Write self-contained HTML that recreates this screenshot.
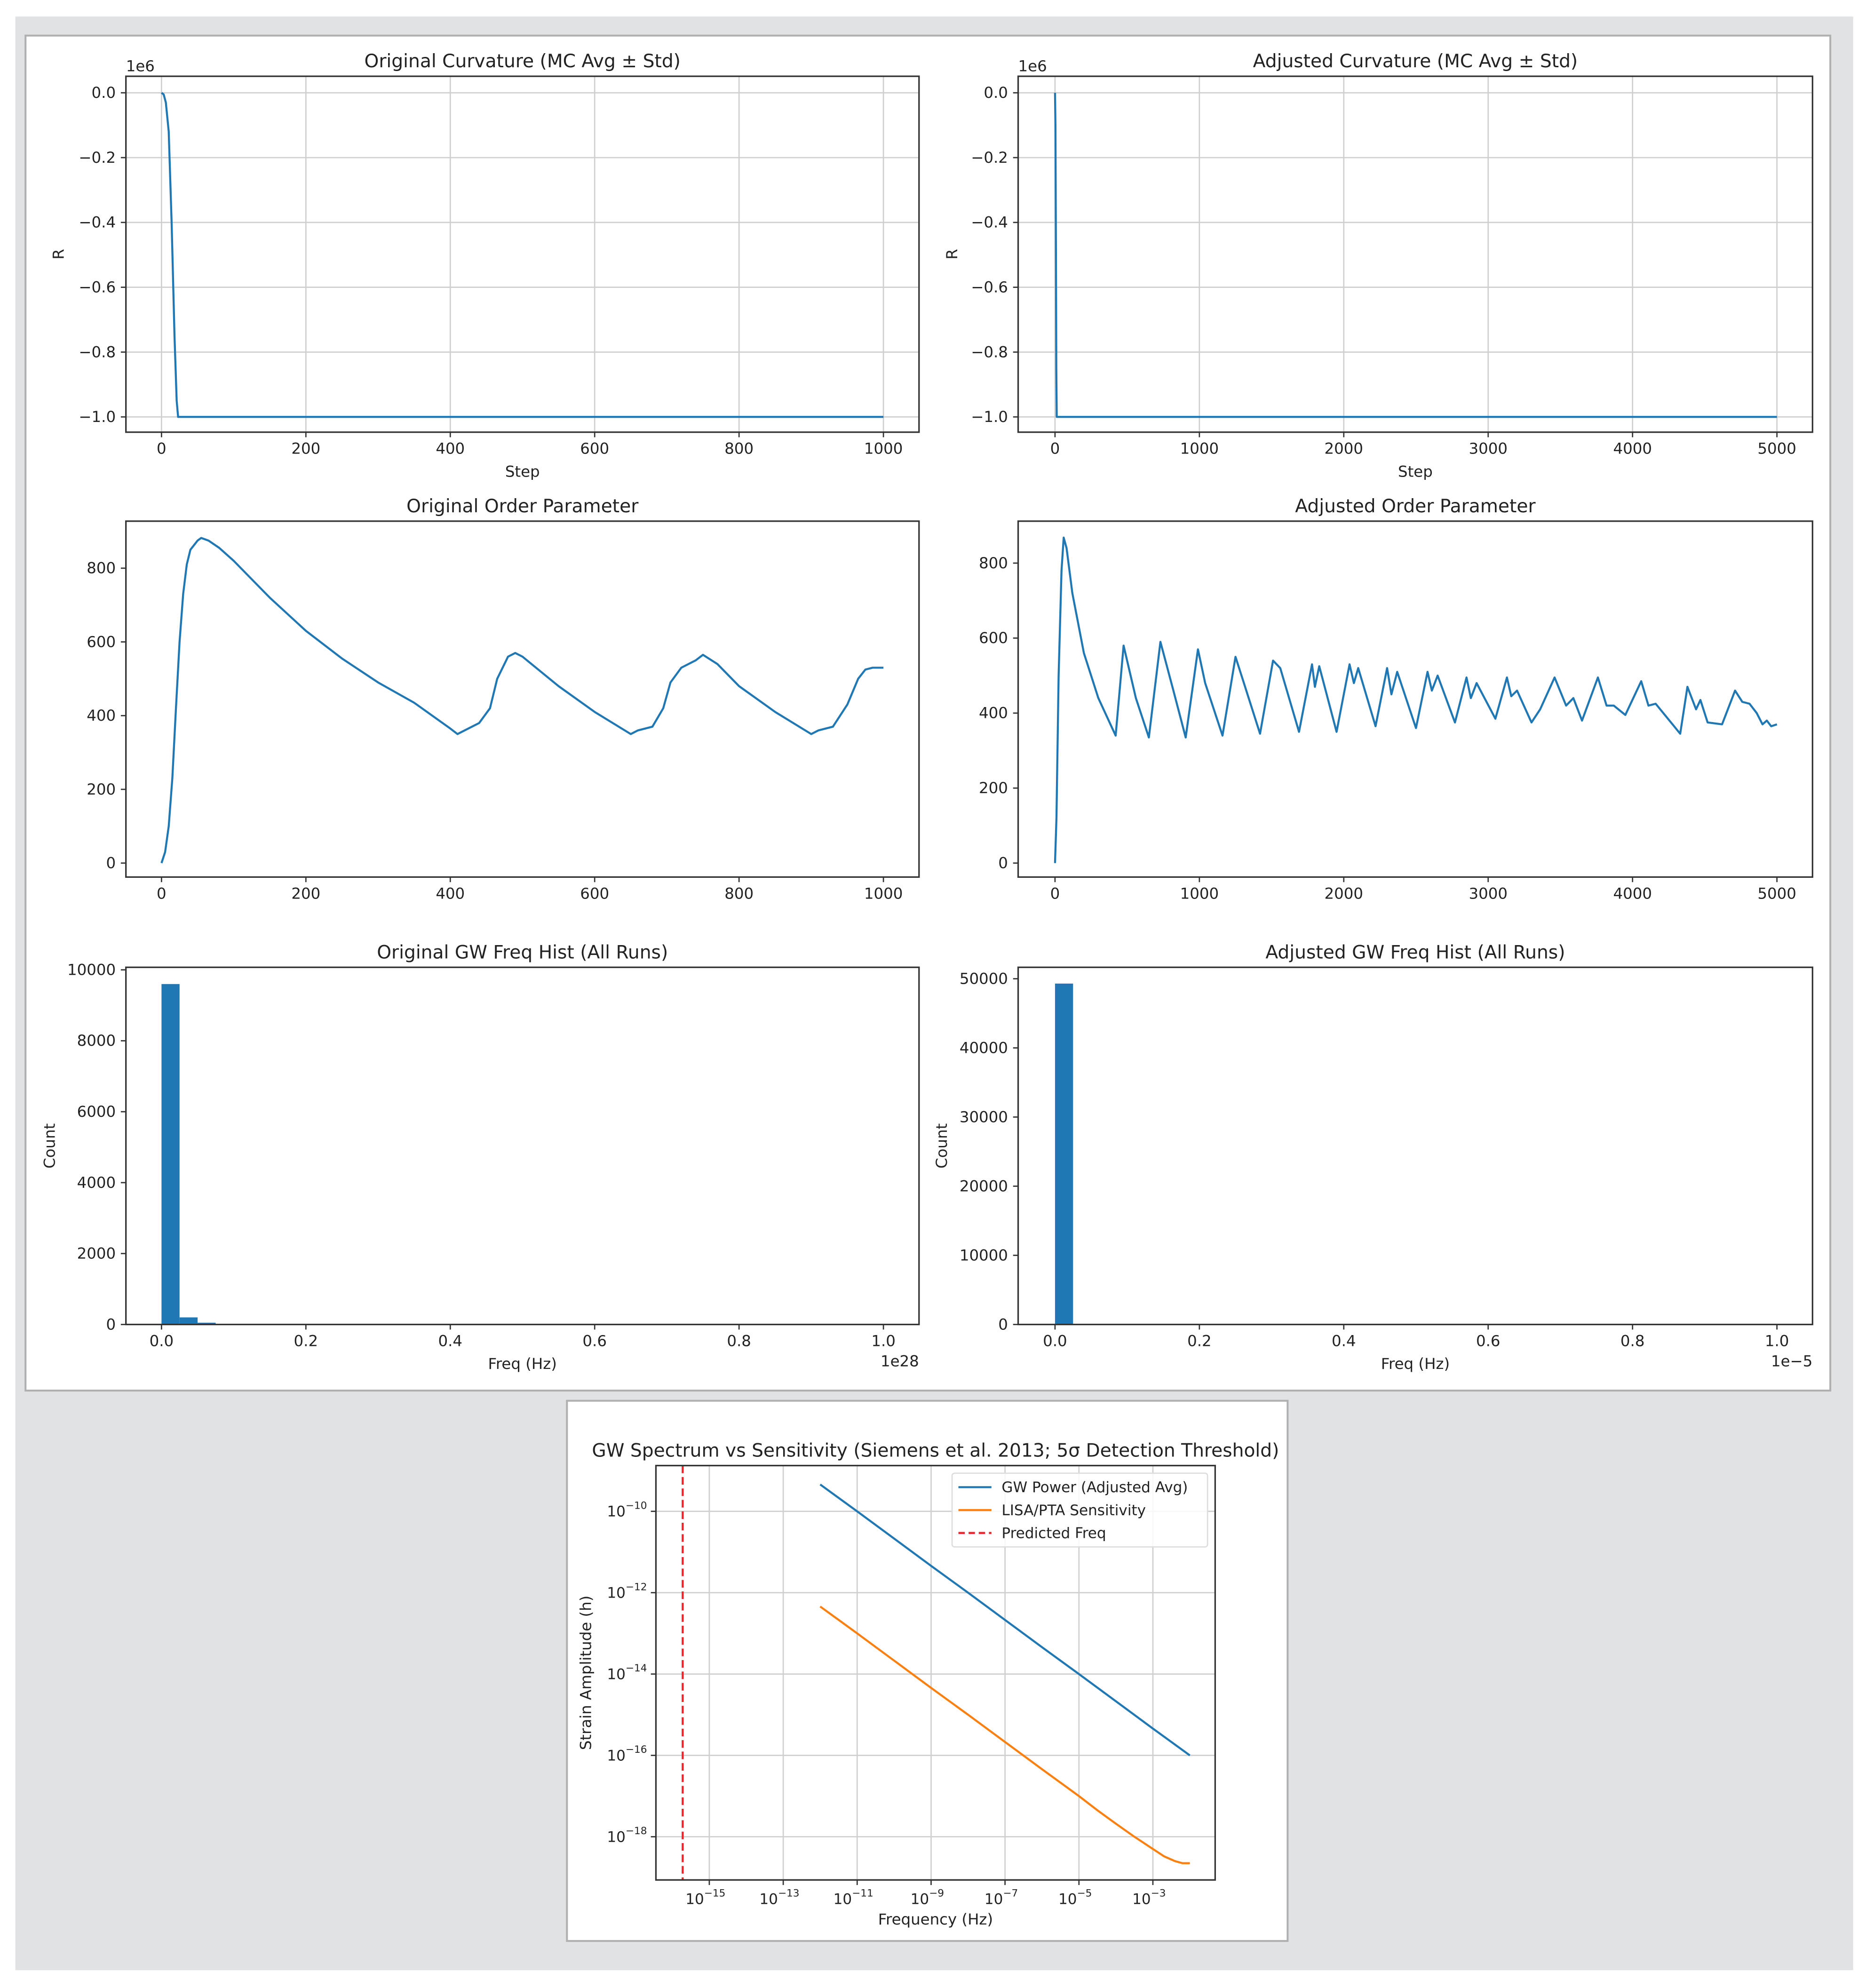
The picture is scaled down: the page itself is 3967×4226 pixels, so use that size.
<!DOCTYPE html>
<html><head><meta charset="utf-8"><style>
html,body{margin:0;padding:0;background:#fff}
svg{display:block}
text{font-family:"DejaVu Sans","Liberation Sans",sans-serif;fill:#222}
</style></head><body>
<svg id="fig" width="3967" height="4226" viewBox="0 0 1468 1564" xmlns="http://www.w3.org/2000/svg">
<rect x="0" y="0" width="1468" height="1564" fill="#ffffff"/>
<rect x="12" y="13" width="1446" height="1537" fill="#e1e2e4"/>
<rect x="20" y="28" width="1420" height="1066" fill="#fff" stroke="#b0b0b0" stroke-width="1.5"/>
<rect x="446" y="1102" width="567" height="425" fill="#fff" stroke="#b0b0b0" stroke-width="1.5"/>
<g id="root"></g>
</svg>
<script>
// ---- data ----
const curvOrigSteps=[0,3,6,10,14,18,21,23,1000];
const curvOrigVals=[0,-0.005,-0.03,-0.12,-0.4,-0.75,-0.95,-1.0,-1.0];
const curvAdjSteps=[0,3,6,9,12,5000];
const curvAdjVals=[0,-0.1,-0.45,-0.85,-1.0,-1.0];
const ordOrigSteps=[0,5,10,15,20,25,30,35,40,50,55,65,80,100,150,200,250,300,350,400,410,420,440,455,465,480,490,500,550,600,650,660,680,695,705,720,740,750,770,800,850,900,910,930,950,965,975,985,1000];
const ordOrigVals=[0,30,100,230,420,600,730,810,850,875,882,875,855,820,720,630,555,490,435,365,350,360,380,420,500,560,570,560,480,410,350,360,370,420,490,530,550,565,540,480,410,350,360,370,430,500,525,530,530];
const ordAdjSteps=[0,10,25,45,60,80,120,200,300,420,475,560,650,730,820,905,990,1040,1160,1250,1300,1420,1510,1560,1690,1780,1800,1830,1950,2040,2070,2100,2220,2300,2330,2370,2500,2580,2610,2650,2770,2850,2880,2920,3050,3130,3160,3200,3300,3360,3460,3540,3590,3650,3760,3820,3870,3950,4060,4110,4160,4330,4380,4440,4470,4520,4620,4710,4760,4810,4860,4900,4930,4960,5000];
const ordAdjVals=[0,120,500,780,868,840,720,560,440,340,580,440,335,590,460,335,570,480,340,550,490,345,540,520,350,530,470,525,350,530,480,520,365,520,450,510,360,510,460,500,375,495,440,480,385,495,445,460,375,410,495,420,440,380,495,420,420,395,485,420,425,345,470,410,435,375,370,460,430,425,400,370,380,365,370];
const histOrigEdges=[0,0.025,0.05,0.075,0.1];
const histOrigCounts=[9600,200,50,15];
const histAdjEdges=[0,0.025,0.05];
const histAdjCounts=[49300,100];
const gwFreqExp=[-12,-11,-10,-9,-8,-7,-6,-5,-4,-3,-2];
const gwPowerExp=[-9.34,-10.0,-10.67,-11.34,-12.0,-12.67,-13.34,-14.0,-14.67,-15.34,-16.0];
const lisaFreqExp=[-12,-11,-10,-9,-8,-7,-6,-5,-4.5,-4,-3.5,-3,-2.7,-2.4,-2.2,-2];
const lisaExp=[-12.34,-13.0,-13.67,-14.34,-15.0,-15.67,-16.34,-17.0,-17.35,-17.68,-18.0,-18.3,-18.48,-18.6,-18.65,-18.65];
const predictedFreqExp=[-15.72];

const NS="http://www.w3.org/2000/svg";
const root=document.getElementById('root');
function el(tag,attrs,parent){const e=document.createElementNS(NS,tag);for(const k in attrs)e.setAttribute(k,attrs[k]);(parent||root).appendChild(e);return e;}
function txt(x,y,s,size,anchor,parent,extra){const t=el('text',Object.assign({x:x,y:y,'font-size':size,'text-anchor':anchor||'middle'},extra||{}),parent);t.textContent=s;return t;}
function lin(d0,d1,p0,p1){return v=>p0+(v-d0)*(p1-p0)/(d1-d0);}
function fmtMinus(s){return String(s).replace('-','\u2212');}

function axes(o){
  const g=el('g',{});
  
  
  const X=lin(o.xd[0],o.xd[1],o.xp[0],o.xp[1]);
  const Y=lin(o.yd[0],o.yd[1],o.yp[0],o.yp[1]);
  el('rect',{x:o.box[0],y:o.box[1],width:o.box[2]-o.box[0],height:o.box[3]-o.box[1],fill:'#fff'},g);
  if(o.grid){
    o.xt.forEach(v=>{const gl=el('line',{x1:X(v),x2:X(v),y1:o.box[1],y2:o.box[3],stroke:'#cfcfcf','stroke-width':1},g);});
    o.yt.forEach(v=>{const gl=el('line',{y1:Y(v),y2:Y(v),x1:o.box[0],x2:o.box[2],stroke:'#cfcfcf','stroke-width':1},g);});
  }
  o.xt.forEach((v,i)=>{el('line',{x1:X(v),x2:X(v),y1:o.box[3],y2:o.box[3]+4,stroke:'#333'},g);
    const t=txt(X(v),o.box[3]+17,o.xl[i],12,'middle',g);});
  o.yt.forEach((v,i)=>{el('line',{x1:o.box[0]-4,x2:o.box[0],y1:Y(v),y2:Y(v),stroke:'#333'},g);
    const t=txt(o.box[0]-8,Y(v)+4,o.yl[i],12,'end',g);});
  const tt=txt((o.box[0]+o.box[2])/2,o.box[1]-7,o.title,14.5,'middle',g);
  
  if(o.xlabel){const t=txt((o.box[0]+o.box[2])/2,o.box[3]+35,o.xlabel,12,'middle',g);}
  if(o.ylabel){const t=txt(o.ylx,(o.box[1]+o.box[3])/2,o.ylabel,12,'middle',g,{transform:`rotate(-90 ${o.ylx} ${(o.box[1]+o.box[3])/2})`});}
  if(o.topoff){const t=txt(o.box[0],o.box[1]-4,o.topoff,12,'start',g);}
  if(o.xoff){const t=txt(o.box[2],o.box[3]+33,o.xoff,12,'end',g);}
  return {g,X,Y,box:o.box};
}
function frame(a){el('rect',{x:a.box[0],y:a.box[1],width:a.box[2]-a.box[0],height:a.box[3]-a.box[1],fill:'none',stroke:'#333','stroke-width':1.2},a.g);}
function line(a,xs,ys,color,name){
  const p=el('polyline',{points:xs.map((x,i)=>a.X(x).toFixed(2)+','+a.Y(ys[i]).toFixed(2)).join(' '),fill:'none',stroke:color,'stroke-width':1.6,'stroke-linejoin':'round'},a.g);
  
  
}
function bars(a,edges,counts,name){
  counts.forEach((c,i)=>{const r=el('rect',{x:a.X(edges[i]),y:a.Y(c),width:a.X(edges[i+1])-a.X(edges[i]),height:a.Y(0)-a.Y(c),fill:'#1f77b4'},a.g);
    
    });
}

// Plot 1
let a=axes({name:'original-curvature-chart',box:[99,60,723,340],xd:[0,1000],xp:[127,695],yd:[0,-1],yp:[73,328],grid:true,
 xt:[0,200,400,600,800,1000],xl:['0','200','400','600','800','1000'],yt:[0,-0.2,-0.4,-0.6,-0.8,-1.0],yl:['0.0','\u22120.2','\u22120.4','\u22120.6','\u22120.8','\u22121.0'],
 title:'Original Curvature (MC Avg \u00b1 Std)',xlabel:'Step',ylabel:'R',ylx:50,topoff:'1e6'});
line(a,curvOrigSteps,curvOrigVals,'#1f77b4','original-curvature-line');frame(a);
// Plot 2
a=axes({name:'adjusted-curvature-chart',box:[801,60,1426,340],xd:[0,5000],xp:[830,1398],yd:[0,-1],yp:[73,328],grid:true,
 xt:[0,1000,2000,3000,4000,5000],xl:['0','1000','2000','3000','4000','5000'],yt:[0,-0.2,-0.4,-0.6,-0.8,-1.0],yl:['0.0','\u22120.2','\u22120.4','\u22120.6','\u22120.8','\u22121.0'],
 title:'Adjusted Curvature (MC Avg \u00b1 Std)',xlabel:'Step',ylabel:'R',ylx:753,topoff:'1e6'});
line(a,curvAdjSteps,curvAdjVals,'#1f77b4','adjusted-curvature-line');frame(a);
// Plot 3
a=axes({name:'original-order-parameter-chart',box:[99,410,723,690],xd:[0,1000],xp:[127,695],yd:[0,800],yp:[679,447],
 xt:[0,200,400,600,800,1000],xl:['0','200','400','600','800','1000'],yt:[0,200,400,600,800],yl:['0','200','400','600','800'],
 title:'Original Order Parameter'});
line(a,ordOrigSteps,ordOrigVals,'#1f77b4','original-order-parameter-line');frame(a);
// Plot 4
a=axes({name:'adjusted-order-parameter-chart',box:[801,410,1426,690],xd:[0,5000],xp:[830,1398],yd:[0,800],yp:[679,443],
 xt:[0,1000,2000,3000,4000,5000],xl:['0','1000','2000','3000','4000','5000'],yt:[0,200,400,600,800],yl:['0','200','400','600','800'],
 title:'Adjusted Order Parameter'});
line(a,ordAdjSteps,ordAdjVals,'#1f77b4','adjusted-order-parameter-line');frame(a);
// Plot 5
a=axes({name:'original-gw-freq-histogram',box:[99,761,723,1042],xd:[0,1],xp:[127,695],yd:[0,10000],yp:[1042,763],
 xt:[0,0.2,0.4,0.6,0.8,1.0],xl:['0.0','0.2','0.4','0.6','0.8','1.0'],yt:[0,2000,4000,6000,8000,10000],yl:['0','2000','4000','6000','8000','10000'],
 title:'Original GW Freq Hist (All Runs)',xlabel:'Freq (Hz)',ylabel:'Count',ylx:43,xoff:'1e28'});
bars(a,histOrigEdges,histOrigCounts,'original-hist');frame(a);
// Plot 6
a=axes({name:'adjusted-gw-freq-histogram',box:[801,761,1426,1042],xd:[0,1],xp:[830,1398],yd:[0,50000],yp:[1042,770],
 xt:[0,0.2,0.4,0.6,0.8,1.0],xl:['0.0','0.2','0.4','0.6','0.8','1.0'],yt:[0,10000,20000,30000,40000,50000],yl:['0','10000','20000','30000','40000','50000'],
 title:'Adjusted GW Freq Hist (All Runs)',xlabel:'Freq (Hz)',ylabel:'Count',ylx:745,xoff:'1e\u22125'});
bars(a,histAdjEdges,histAdjCounts,'adjusted-hist');frame(a);

// Plot 7 (log-log, exponents)
const xtE=[-15,-13,-11,-9,-7,-5,-3], ytE=[-10,-12,-14,-16,-18];
a=axes({name:'gw-spectrum-chart',box:[516,1153,956,1479],xd:[-15,-3],xp:[558,907],yd:[-10,-18],yp:[1189,1445],grid:true,
 xt:xtE,xl:xtE.map(()=>''),yt:ytE,yl:ytE.map(()=>''),
 title:'GW Spectrum vs Sensitivity (Siemens et al. 2013; 5\u03c3 Detection Threshold)',xlabel:'Frequency (Hz)',ylabel:'Strain Amplitude (h)',ylx:465});
xtE.forEach(e=>{const t=el('text',{x:a.X(e)-3,y:1498,'font-size':11.5,'text-anchor':'middle'},a.g);
 t.appendChild(document.createTextNode('10'));const s=el('tspan',{dy:-6,'font-size':8},t);s.textContent=fmtMinus(e);});
ytE.forEach(e=>{const t=el('text',{x:509,y:a.Y(e)+4,'font-size':11.5,'text-anchor':'end'},a.g);
 t.appendChild(document.createTextNode('10'));const s=el('tspan',{dy:-6,'font-size':8},t);s.textContent=fmtMinus(e);});
line(a,gwFreqExp,gwPowerExp,'#1f77b4','gw-power-line');
line(a,lisaFreqExp,lisaExp,'#ff7f0e','lisa-sensitivity-line');
predictedFreqExp.forEach(e=>{const l=el('line',{x1:a.X(e),x2:a.X(e),y1:1153,y2:1479,stroke:'#e8262b','stroke-width':1.6,'stroke-dasharray':'6,3'},a.g);
 });
frame(a);
// legend
const lg=el('g',{});


el('rect',{x:749,y:1159,width:201,height:58,fill:'#fff','fill-opacity':0.85,stroke:'#ddd',rx:2},lg);
[['GW Power (Adjusted Avg)','#1f77b4',null],['LISA/PTA Sensitivity','#ff7f0e',null],['Predicted Freq','#e8262b','5,3']].forEach((r,i)=>{
 const y=1170+i*18;
 const e=el('g',{},lg);
 
 
 const la={x1:754,x2:780,y1:y,y2:y,stroke:r[1],'stroke-width':1.6};if(r[2])la['stroke-dasharray']=r[2];
 el('line',la,e);txt(788,y+4,r[0],11.5,'start',e);
});
</script>
</body></html>
